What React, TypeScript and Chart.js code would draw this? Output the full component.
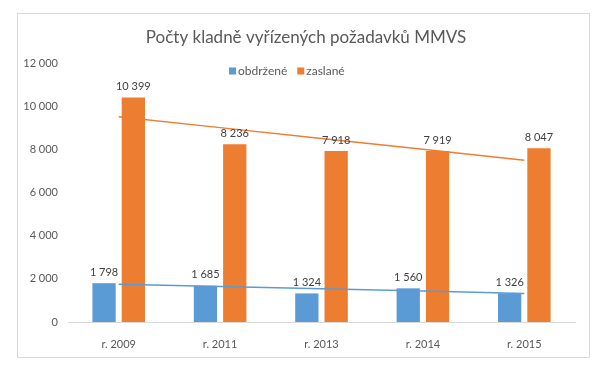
import React, { useEffect, useRef } from "react";
import { Chart, registerables } from "chart.js";

Chart.register(...registerables);

const TITLE = "Počty kladně vyřízených požadavků MMVS";
const categories = ["r. 2009", "r. 2011", "r. 2013", "r. 2014", "r. 2015"];
const seriesNames = ["obdržené", "zaslané"];
const received = [1798, 1685, 1324, 1560, 1326];
const sent = [10399, 8236, 7918, 7919, 8047];
const yMin = 0;
const yMax = 12000;
const yStep = 2000;

const BLUE = "#5B9BD5";
const ORANGE = "#ED7D31";
const TEXT = "#595959";
const LABEL = "#404040";
const FONT = "Lato, 'Open Sans', sans-serif";

function fmt(n: number): string {
  return String(Math.round(n)).replace(/\B(?=(\d{3})+(?!\d))/g, " ");
}

// Linear (least-squares) trendline, as the spreadsheet draws it
function linearTrend(values: number[]): number[] {
  const n = values.length;
  const mx = (n - 1) / 2;
  const my = values.reduce((a, b) => a + b, 0) / n;
  let sxy = 0;
  let sxx = 0;
  values.forEach((v, i) => {
    sxy += (i - mx) * (v - my);
    sxx += (i - mx) * (i - mx);
  });
  const b = sxy / sxx;
  const a = my - b * mx;
  return values.map((_, i) => a + b * i);
}

const framePlugin = {
  id: "frame",
  beforeDraw(chart: any) {
    const ctx = chart.ctx;
    ctx.save();
    ctx.fillStyle = "#ffffff";
    ctx.fillRect(0, 0, chart.width, chart.height);
    ctx.strokeStyle = "#D9D9D9";
    ctx.lineWidth = 1;
    ctx.strokeRect(17.5, 13.5, 572, 344);
    ctx.restore();
  },
  afterDraw(chart: any) {
    const ctx = chart.ctx;
    ctx.save();
    // title
    ctx.font = `17px ${FONT}`;
    ctx.fillStyle = TEXT;
    ctx.textAlign = "center";
    ctx.textBaseline = "middle";
    ctx.fillText(TITLE, 306, 38);
    // legend
    ctx.font = `12px ${FONT}`;
    ctx.textAlign = "left";
    const colors = [BLUE, ORANGE];
    let x = 229;
    const y = 71;
    seriesNames.forEach((name, i) => {
      ctx.fillStyle = colors[i];
      ctx.fillRect(x, y - 3.5, 7, 7);
      x += 9;
      ctx.fillStyle = TEXT;
      ctx.fillText(name, x, y + 0.5);
      x += ctx.measureText(name).width + 10;
    });
    ctx.restore();
  },
  afterDatasetsDraw(chart: any) {
    const ctx = chart.ctx;
    ctx.save();
    ctx.font = `11px ${FONT}`;
    ctx.fillStyle = LABEL;
    ctx.textAlign = "center";
    ctx.textBaseline = "middle";
    [0, 1].forEach((di) => {
      const meta = chart.getDatasetMeta(di);
      const data = chart.data.datasets[di].data as number[];
      meta.data.forEach((el: any, i: number) => {
        ctx.fillText(fmt(data[i]), el.x, el.y - 11);
      });
    });
    ctx.restore();
  },
};

export default function App() {
  const ref = useRef<HTMLCanvasElement | null>(null);

  useEffect(() => {
    document.body.style.margin = "0";
    const canvas = ref.current;
    if (!canvas) return;
    const chart = new Chart(canvas, {
      type: "bar",
      data: {
        labels: categories,
        datasets: [
          {
            type: "bar",
            label: seriesNames[0],
            data: received,
            backgroundColor: BLUE,
            categoryPercentage: 0.578,
            barPercentage: 0.795,
            order: 2,
          },
          {
            type: "bar",
            label: seriesNames[1],
            data: sent,
            backgroundColor: ORANGE,
            categoryPercentage: 0.578,
            barPercentage: 0.795,
            order: 2,
          },
          {
            type: "line",
            label: "trend " + seriesNames[0],
            data: linearTrend(received),
            borderColor: BLUE,
            borderWidth: 1.5,
            pointRadius: 0,
            fill: false,
            order: 0,
          },
          {
            type: "line",
            label: "trend " + seriesNames[1],
            data: linearTrend(sent),
            borderColor: ORANGE,
            borderWidth: 1.5,
            pointRadius: 0,
            fill: false,
            order: 0,
          },
        ] as any,
      },
      options: {
        animation: false,
        responsive: false,
        maintainAspectRatio: false,
        layout: { padding: { left: 18, right: 25, top: 63, bottom: 20 } },
        plugins: {
          legend: { display: false },
          title: { display: false },
          tooltip: { enabled: false },
        },
        scales: {
          x: {
            grid: { display: false, drawTicks: false },
            border: { display: true, color: "#D9D9D9", width: 1 },
            ticks: {
              color: TEXT,
              font: { family: FONT, size: 11 },
              padding: 16,
            },
            afterFit(scale: any) {
              scale.height = 26;
            },
          },
          y: {
            min: yMin,
            max: yMax,
            grid: { display: false, drawTicks: false },
            border: { display: false },
            ticks: {
              stepSize: yStep,
              color: TEXT,
              font: { family: FONT, size: 11 },
              padding: 10,
              callback: (v: any) => fmt(Number(v)),
            },
            afterFit(scale: any) {
              scale.width = 50;
            },
          },
        },
      } as any,
      plugins: [framePlugin],
    });
    return () => chart.destroy();
  }, []);

  return (
    <div style={{ width: 600, height: 368, position: "relative", background: "#fff" }}>
      <canvas ref={ref} width={600} height={368} style={{ display: "block", width: 600, height: 368 }} />
    </div>
  );
}
